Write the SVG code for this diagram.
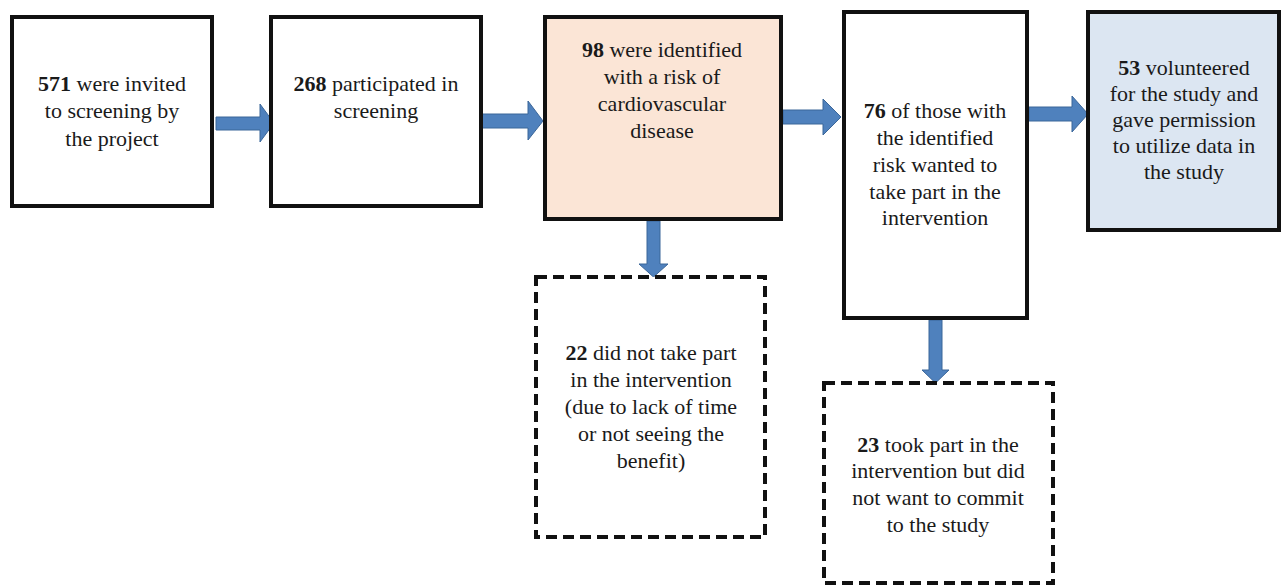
<svg xmlns="http://www.w3.org/2000/svg" width="1282" height="588" viewBox="0 0 1282 588">
<style>
.box{stroke:#111;stroke-width:4;fill:#fff}
.dash{stroke:#111;stroke-width:4;fill:#fff;stroke-dasharray:11 6}
.arr{fill:#4f81bd;stroke:#3b6699;stroke-width:1}
.b{font-weight:bold}
</style>
<rect x="0" y="0" width="1282" height="588" fill="#fff"/>
<g id="connectors">
<polygon class="arr" points="216,117 260,117 260,104 274,123 260,142 260,130 216,130"/>
<polygon class="arr" points="482,114 528,114 528,101 543,121 528,140 528,128 482,128"/>
<polygon class="arr" points="783,110 823,110 823,99 841,117 823,135 823,124 783,124"/>
<polygon class="arr" points="1029,107 1072,107 1072,96 1088,114 1072,132 1072,121 1029,121"/>
<polygon class="arr" points="647,221 660,221 660,264 668,264 653.5,277 639,264 647,264"/>
<polygon class="arr" points="929,320 942,320 942,370 949,370 935.5,383 922,370 929,370"/>
</g>
<g font-family="Liberation Serif, Times New Roman, serif" font-size="22" fill="#1a1a1a" text-anchor="middle">
<g id="n1">
<rect class="box" x="12" y="17" width="200" height="189"/>
<text x="112" y="91"><tspan class="b">571</tspan> were invited</text>
<text x="112" y="118">to screening by</text>
<text x="112" y="146">the project</text>
</g>
<g id="n2">
<rect class="box" x="271" y="17" width="210" height="189"/>
<text x="376" y="91"><tspan class="b">268</tspan> participated in</text>
<text x="376" y="118">screening</text>
</g>
<g id="n3">
<rect class="box" x="545" y="17" width="236" height="202" style="fill:#fbe5d6"/>
<text x="662" y="57"><tspan class="b">98</tspan> were identified</text>
<text x="662" y="84">with a risk of</text>
<text x="662" y="111">cardiovascular</text>
<text x="662" y="138">disease</text>
</g>
<g id="n4">
<rect class="box" x="844" y="12" width="183" height="306"/>
<text x="935" y="118"><tspan class="b">76</tspan> of those with</text>
<text x="935" y="145">the identified</text>
<text x="935" y="172">risk wanted to</text>
<text x="935" y="199">take part in the</text>
<text x="935" y="225">intervention</text>
</g>
<g id="n5">
<rect class="box" x="1088" y="12" width="191" height="218" style="fill:#dce6f2"/>
<text x="1184" y="75"><tspan class="b">53</tspan> volunteered</text>
<text x="1184" y="101">for the study and</text>
<text x="1184" y="127">gave permission</text>
<text x="1184" y="153">to utilize data in</text>
<text x="1184" y="179">the study</text>
</g>
<g id="n6">
<rect class="dash" x="536" y="277" width="229" height="260"/>
<text x="651" y="360"><tspan class="b">22</tspan> did not take part</text>
<text x="651" y="387">in the intervention</text>
<text x="651" y="414">(due to lack of time</text>
<text x="651" y="441">or not seeing the</text>
<text x="651" y="468">benefit)</text>
</g>
<g id="n7">
<rect class="dash" x="824" y="383" width="229" height="200"/>
<text x="938" y="452"><tspan class="b">23</tspan> took part in the</text>
<text x="938" y="478">intervention but did</text>
<text x="938" y="505">not want to commit</text>
<text x="938" y="532">to the study</text>
</g>
</g>
</svg>
